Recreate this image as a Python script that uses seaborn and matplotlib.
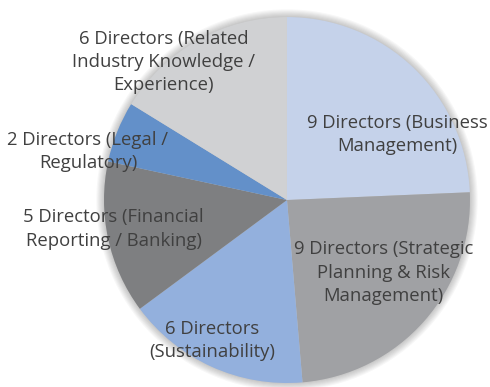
import numpy as np
import matplotlib
matplotlib.use("Agg")
import matplotlib.pyplot as plt
import seaborn as sns
from matplotlib.patches import Circle

# Data
categories = [
    "9 Directors (Business\nManagement)",
    "9 Directors (Strategic\nPlanning & Risk\nManagement)",
    "6 Directors\n(Sustainability)",
    "5 Directors (Financial\nReporting / Banking)",
    "2 Directors (Legal /\nRegulatory)",
    "6 Directors (Related\nIndustry Knowledge /\nExperience)",
]
directors = [9, 9, 6, 5, 2, 6]

colors = ["#c5d2ea", "#a0a1a4", "#93b0dd", "#7e7f81", "#6390c9", "#d0d1d3"]
# label placement (fraction of radius, angle in degrees)
label_r = [0.70, 0.66, 0.87, 0.96, 1.12, 1.01]
label_ang = [30.6, -36.9, -117.9, 189.5, 166.2, 131.9]

sns.set_theme(style="white")
plt.rcParams["font.family"] = ["Open Sans", "DejaVu Sans"]

fig = plt.figure(figsize=(4.9, 3.87), dpi=100)
ax = fig.add_axes([0.2122, 0.0103, 0.747, 0.9457])

# soft shadow around the pie
for k in range(8):
    ax.add_patch(Circle((0, 0), 1.0 + 0.006 * k, color="#000000", alpha=0.03,
                        lw=0, zorder=0, clip_on=False))

wedges, _ = ax.pie(directors, colors=colors, startangle=90, counterclock=False,
                   radius=1.0, wedgeprops=dict(linewidth=0, zorder=1))

for lab, r, a in zip(categories, label_r, label_ang):
    t = np.deg2rad(a)
    ax.text(r * np.cos(t), r * np.sin(t), lab, ha="center", va="center",
            fontsize=13.3, color="#404040", linespacing=1.36, zorder=3)

ax.set_xlim(-1, 1)
ax.set_ylim(-1, 1)
ax.set_aspect("equal")
ax.axis("off")

fig.savefig("out.png", dpi=100)
